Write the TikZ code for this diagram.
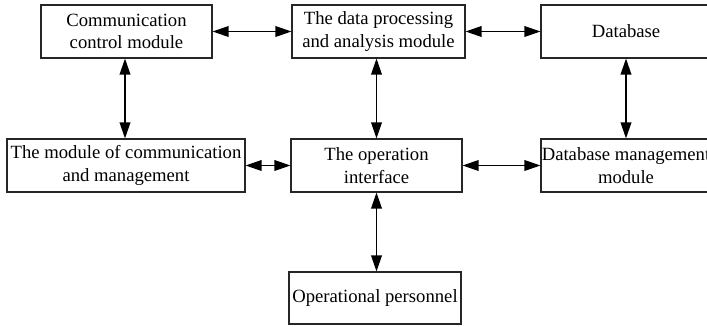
\documentclass[tikz,border=0pt]{standalone}
\usepackage{fontspec}
\setmainfont{Liberation Serif}
\usetikzlibrary{arrows.meta}
\tikzset{
  block/.style={draw=black!85, line width=0.8pt, rectangle, inner sep=0pt,
    minimum height=39.75pt, align=center,
    font=\fontsize{14}{17}\selectfont},
  biarrow/.style={line width=1pt,
    {Triangle[length=12pt,width=8pt]}-{Triangle[length=12pt,width=8pt]}}
}
\begin{document}
\begin{tikzpicture}[x=0.75pt,y=-0.75pt]
  \useasboundingbox (0,0) rectangle (707,327);
  \clip (0,0) rectangle (707,327);

  % top row
  \node[block, minimum width=128.25pt] (comm) at (126.5,31.5)
    {Communication\\control module};
  \node[block, minimum width=129.75pt] (proc) at (378.5,31.5)
    {The data processing\\and analysis module};
  \node[block, minimum width=127.5pt] (db) at (626,31.5) {Database};

  % middle row
  \node[block, minimum width=178.5pt] (cmgmt) at (126,165.5)
    {The module of communication\\and management};
  \node[block, minimum width=128.25pt] (ui) at (376.5,165.5)
    {The operation\\interface};
  \node[block, minimum width=127.5pt] (dbm) at (626,165.5)
    {Database management\\module};

  % bottom
  \node[block, minimum width=129pt, minimum height=39pt] (op) at (375,298)
    {Operational personnel};

  % horizontal links
  \draw[biarrow] (comm.east) -- (proc.west);
  \draw[biarrow] (proc.east) -- (db.west);
  \draw[biarrow] (cmgmt.east) -- (ui.west);
  \draw[biarrow] (ui.east) -- (dbm.west);

  % vertical links
  \draw[biarrow] ([xshift=-1.5*0.75pt]comm.south) -- ([xshift=-1.5*0.75pt]comm.south |- cmgmt.north);
  \draw[biarrow] (ui.north |- proc.south) -- (ui.north);
  \draw[biarrow] (db.south) -- (dbm.north);
  \draw[biarrow] (ui.south) -- (ui.south |- op.north);
\end{tikzpicture}
\end{document}
